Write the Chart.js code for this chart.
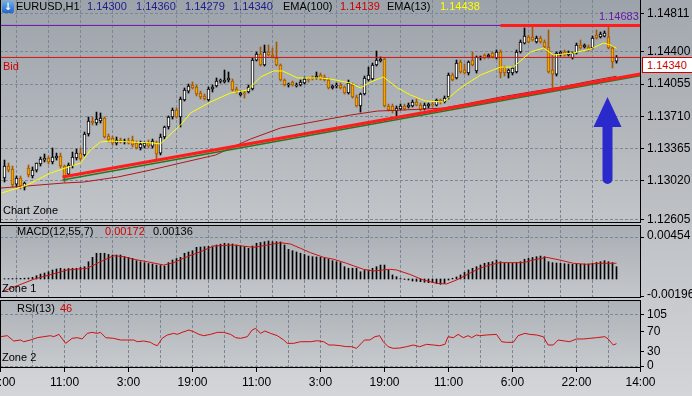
<!DOCTYPE html>
<html>
<head>
<meta charset="utf-8">
<script src="https://cdn.jsdelivr.net/npm/chart.js@4.4.1/dist/chart.umd.min.js"></script>
<style>
  body { margin: 0; width: 692px; height: 396px; overflow: hidden; position: relative;
         background: linear-gradient(#a3a8ae, #d3d5d8); font: 11px "Liberation Sans", Arial, sans-serif; }
  canvas { position: absolute; left: 0; }
  .lbl { position: absolute; white-space: nowrap; line-height: 12px; color: #000; }
  .blue { color: #1c1c8c; }
  .red { color: #d00000; }
  .yel { color: #ffff00; }
  .icon { position: absolute; left: 2px; top: 1px; width: 12px; height: 12px; border-radius: 2px;
          background: linear-gradient(#6aaef0, #2466c8); color: #fff; font: bold 10px/12px "DejaVu Sans"; text-align: center; }
  .pricebox { position: absolute; left: 642px; top: 57px; width: 46px; height: 14px; padding-left: 4px;
              border: 1px solid #d00000; background: #fff; color: #d00000; line-height: 14px; }
</style>
</head>
<body>
<canvas id="main" width="692" height="223" style="top:0"></canvas>
<canvas id="macd" width="692" height="80" style="top:225px"></canvas>
<canvas id="rsi" width="692" height="96" style="top:300px"></canvas>

<div class="icon">↓</div>
<div class="lbl" style="left:16px;top:0">EURUSD,H1</div>
<div class="lbl blue" style="left:87px;top:0">1.14300</div>
<div class="lbl blue" style="left:136px;top:0">1.14360</div>
<div class="lbl blue" style="left:185px;top:0">1.14279</div>
<div class="lbl blue" style="left:233px;top:0">1.14340</div>
<div class="lbl" style="left:283px;top:0">EMA(100)</div>
<div class="lbl red" style="left:340px;top:0">1.14139</div>
<div class="lbl" style="left:387px;top:0">EMA(13)</div>
<div class="lbl yel" style="left:440px;top:0">1.14438</div>
<div class="lbl" style="left:599px;top:10px;color:#6a1aa8">1.14683</div>
<div class="lbl red" style="left:3px;top:60px">Bid</div>
<div class="lbl" style="left:3px;top:204px">Chart Zone</div>
<div class="pricebox">1.14340</div>

<div class="lbl" style="left:17px;top:225px">MACD(12,55,7)</div>
<div class="lbl red" style="left:105px;top:225px">0.00172</div>
<div class="lbl" style="left:153px;top:225px">0.00136</div>
<div class="lbl" style="left:2px;top:282px">Zone 1</div>

<div class="lbl" style="left:17px;top:302px">RSI(13)</div>
<div class="lbl red" style="left:60px;top:302px">46</div>
<div class="lbl" style="left:2px;top:351px">Zone 2</div>

<script>
// candles, one per hour, bar index starts at 1
const firstBar = 1;
const opens = [
  1.13049,1.13177,1.13145,1.12984,1.13049,1.12952,1.13156,1.13070,1.13134,1.13199,
  1.13241,1.13263,1.13220,1.13263,1.13284,1.13177,1.13091,1.13177,1.13263,1.13316,
  1.13295,1.13520,1.13659,1.13638,1.13659,1.13691,1.13498,1.13477,1.13423,1.13456,
  1.13434,1.13445,1.13456,1.13423,1.13370,1.13391,1.13423,1.13391,1.13423,1.13316,
  1.13488,1.13595,1.13702,1.13777,1.13702,1.13884,1.13980,1.14045,1.14023,1.13959,
  1.13927,1.13884,1.14002,1.14034,1.14087,1.14077,1.14098,1.14087,1.14002,1.13938,
  1.13959,1.13970,1.14002,1.14312,1.14377,1.14259,1.14398,1.14366,1.14334,1.14259,
  1.14098,1.14045,1.14077,1.14034,1.14045,1.14066,1.14109,1.14130,1.14120,1.14152,
  1.14130,1.14098,1.14013,1.14034,1.14045,1.14023,1.13959,1.14045,1.13916,1.13820,
  1.13948,1.14098,1.14109,1.14259,1.14302,1.14323,1.13820,1.13820,1.13766,1.13788,
  1.13820,1.13809,1.13820,1.13863,1.13830,1.13788,1.13820,1.13841,1.13830,1.13884,
  1.13863,1.13916,1.14152,1.14120,1.14291,1.14205,1.14173,1.14312,1.14195,1.14334,
  1.14366,1.14345,1.14387,1.14334,1.14398,1.14237,1.14173,1.14173,1.14184,1.14398,
  1.14494,1.14559,1.14559,1.14505,1.14548,1.14505,1.14452,1.14205,1.14162,1.14377,
  1.14398,1.14366,1.14334,1.14387,1.14473,1.14452,1.14452,1.14441,1.14580,1.14559,
  1.14569,1.14559,1.14441,1.14300
];
const highs = [
  1.13241,1.13209,1.13177,1.13070,1.13070,1.13006,1.13188,1.13167,1.13209,1.13274,
  1.13306,1.13284,1.13370,1.13316,1.13316,1.13188,1.13209,1.13327,1.13359,1.13370,
  1.13541,1.13702,1.13702,1.13755,1.13745,1.13702,1.13520,1.13498,1.13488,1.13477,
  1.13466,1.13477,1.13498,1.13445,1.13445,1.13434,1.13456,1.13466,1.13445,1.13520,
  1.13605,1.13713,1.13798,1.13798,1.13916,1.14013,1.14055,1.14077,1.14045,1.13980,
  1.13948,1.14023,1.14045,1.14120,1.14109,1.14205,1.14184,1.14109,1.14023,1.13980,
  1.13980,1.14045,1.14334,1.14398,1.14452,1.14473,1.14473,1.14441,1.14505,1.14270,
  1.14109,1.14066,1.14087,1.14066,1.14098,1.14130,1.14120,1.14141,1.14184,1.14173,
  1.14152,1.14120,1.14045,1.14066,1.14066,1.14034,1.14098,1.14066,1.13938,1.13959,
  1.14141,1.14237,1.14280,1.14409,1.14345,1.14334,1.13841,1.13841,1.13820,1.13841,
  1.13841,1.13852,1.13884,1.13895,1.13852,1.13852,1.13852,1.13863,1.13895,1.13895,
  1.13927,1.14173,1.14173,1.14312,1.14312,1.14270,1.14302,1.14398,1.14355,1.14355,
  1.14377,1.14377,1.14398,1.14420,1.14420,1.14248,1.14216,1.14237,1.14420,1.14527,
  1.14655,1.14580,1.14666,1.14569,1.14569,1.14527,1.14634,1.14366,1.14398,1.14409,
  1.14420,1.14409,1.14398,1.14494,1.14527,1.14484,1.14473,1.14569,1.14634,1.14612,
  1.14623,1.14683,1.14462,1.14360
];
const lows = [
  1.13006,1.13113,1.12952,1.12952,1.12931,1.12920,1.13059,1.13049,1.13113,1.13177,
  1.13220,1.13199,1.13199,1.13241,1.13156,1.13006,1.13070,1.13156,1.13241,1.13241,
  1.13284,1.13498,1.13616,1.13616,1.13638,1.13477,1.13434,1.13402,1.13402,1.13423,
  1.13413,1.13413,1.13381,1.13359,1.13349,1.13370,1.13370,1.13370,1.13241,1.13295,
  1.13466,1.13573,1.13680,1.13691,1.13595,1.13873,1.13959,1.14002,1.13927,1.13895,
  1.13884,1.13873,1.13970,1.14023,1.14066,1.14066,1.14077,1.13980,1.13959,1.13927,
  1.13905,1.13959,1.13991,1.14302,1.14248,1.14248,1.14355,1.14334,1.14248,1.14087,
  1.14034,1.14023,1.14034,1.14023,1.14034,1.14055,1.14077,1.14098,1.14109,1.14098,
  1.14087,1.14002,1.14002,1.14013,1.14002,1.13948,1.13948,1.13905,1.13809,1.13755,
  1.13938,1.14087,1.14098,1.14248,1.14291,1.13809,1.13766,1.13745,1.13702,1.13777,
  1.13777,1.13798,1.13809,1.13820,1.13766,1.13777,1.13798,1.13809,1.13820,1.13841,
  1.13852,1.13895,1.14087,1.14109,1.14173,1.14162,1.14152,1.14248,1.14173,1.14312,
  1.14323,1.14334,1.14334,1.14323,1.14120,1.14141,1.14120,1.14152,1.14173,1.14387,
  1.14484,1.14494,1.14516,1.14494,1.14494,1.14441,1.14173,1.14013,1.14141,1.14355,
  1.14355,1.14355,1.14323,1.14377,1.14430,1.14441,1.14409,1.14430,1.14537,1.14548,
  1.14559,1.14430,1.14227,1.14279
];
const closes = [
  1.13177,1.13134,1.12974,1.13049,1.12963,1.12995,1.13081,1.13134,1.13209,1.13252,
  1.13263,1.13220,1.13274,1.13284,1.13177,1.13059,1.13188,1.13274,1.13316,1.13252,
  1.13520,1.13659,1.13638,1.13680,1.13691,1.13488,1.13456,1.13423,1.13456,1.13434,
  1.13445,1.13423,1.13402,1.13370,1.13413,1.13423,1.13391,1.13445,1.13306,1.13488,
  1.13595,1.13702,1.13777,1.13702,1.13895,1.13991,1.14034,1.14013,1.13948,1.13916,
  1.13895,1.14002,1.14023,1.14087,1.14098,1.14098,1.14120,1.13991,1.13970,1.13959,
  1.13948,1.14023,1.14312,1.14377,1.14259,1.14398,1.14366,1.14345,1.14259,1.14098,
  1.14045,1.14055,1.14045,1.14045,1.14077,1.14109,1.14098,1.14109,1.14141,1.14109,
  1.14098,1.14013,1.14034,1.14045,1.14013,1.13959,1.14066,1.13916,1.13820,1.13948,
  1.14120,1.14152,1.14259,1.14312,1.14323,1.13820,1.13777,1.13766,1.13798,1.13820,
  1.13788,1.13830,1.13863,1.13830,1.13777,1.13830,1.13841,1.13830,1.13884,1.13863,
  1.13905,1.14152,1.14098,1.14280,1.14184,1.14173,1.14291,1.14259,1.14345,1.14345,
  1.14334,1.14366,1.14345,1.14398,1.14173,1.14173,1.14205,1.14227,1.14398,1.14505,
  1.14569,1.14505,1.14527,1.14548,1.14505,1.14452,1.14184,1.14162,1.14387,1.14398,
  1.14366,1.14387,1.14387,1.14473,1.14441,1.14473,1.14420,1.14548,1.14548,1.14591,
  1.14602,1.14441,1.14291,1.14340
];

// moving averages (bar index, price)
const ema13X = [0.25,6.75,12.5,16.25,20,22.5,25,27.5,38.25,40,41.75,45,47.5,52.5,57.5,61.75,65,68.25,70.5,74.25,
  80,82.5,87.5,90,92.5,95.75,99.25,102.5,106.25,110.75,115,120,125,128.25,132.5,135.75,138.25,143.25,147.5,150.75,152.5,154];
const ema13Y = [1.12888,1.12974,1.13102,1.13156,1.13209,1.13349,1.13434,1.13445,1.13423,1.13413,
  1.13488,1.13616,1.13745,1.13863,1.13959,1.13991,1.14130,1.14195,1.14195,1.14120,
  1.14120,1.14109,1.14066,1.14013,1.14077,1.14130,1.14013,1.13938,1.13873,1.13863,
  1.14013,1.14152,1.14237,1.14237,1.14398,1.14441,1.14366,1.14387,1.14430,1.14494,1.14473,1.14438];
const ema100X = [0,15.75,20.75,29.25,37.5,45,53.75,57.5,62.5,70,80.75,87.5,94.25,100.75,106.25,110.75,117.5,125,132.5,140,147.5,154];
const ema100Y = [1.12941,1.12995,1.13006,1.13059,1.13134,1.13209,1.13295,1.13370,1.13466,1.13584,1.13670,
  1.13723,1.13766,1.13777,1.13788,1.13798,1.13852,1.13916,1.13970,1.14023,1.14087,1.14139];

// drawn objects
const trendX = [15.5, 160];
const trendY = [1.13059, 1.14162];
const trendLowY = [1.13027, 1.14146];
const highLevel = 1.14683;
const resistX = [125, 160];
const bidLevel = 1.14340;
const arrowX = 151.75, arrowTip = 1.13916, arrowTail = 1.12984;

// MACD(12,55,7)
const macdHist = [
  0.00003,0.00004,0.00005,0.00005,0.00007,0.00009,0.00011,0.00019,0.00036,0.00054,
  0.00065,0.00079,0.00098,0.00109,0.00117,0.00109,0.00114,0.00117,0.00117,0.00125,
  0.00134,0.00188,0.00236,0.00280,0.00280,0.00280,0.00267,0.00261,0.00261,0.00261,
  0.00243,0.00234,0.00225,0.00199,0.00188,0.00178,0.00169,0.00163,0.00152,0.00147,
  0.00142,0.00178,0.00207,0.00223,0.00236,0.00280,0.00294,0.00308,0.00345,0.00348,
  0.00352,0.00356,0.00359,0.00370,0.00379,0.00389,0.00384,0.00381,0.00370,0.00359,
  0.00352,0.00334,0.00359,0.00389,0.00397,0.00406,0.00414,0.00406,0.00406,0.00403,
  0.00370,0.00323,0.00308,0.00294,0.00280,0.00267,0.00250,0.00243,0.00240,0.00236,
  0.00225,0.00215,0.00199,0.00188,0.00178,0.00134,0.00117,0.00117,0.00117,0.00079,
  0.00093,0.00098,0.00117,0.00134,0.00152,0.00152,0.00098,0.00044,0.00025,0.00005,
  -0.00005,-0.00011,-0.00022,-0.00025,-0.00029,-0.00035,-0.00040,-0.00040,-0.00049,-0.00058,
  -0.00047,-0.00011,0.00008,0.00022,0.00044,0.00071,0.00098,0.00117,0.00134,0.00152,
  0.00171,0.00180,0.00188,0.00207,0.00188,0.00178,0.00174,0.00171,0.00180,0.00188,
  0.00215,0.00225,0.00234,0.00243,0.00250,0.00243,0.00188,0.00178,0.00174,0.00171,
  0.00167,0.00163,0.00160,0.00160,0.00160,0.00163,0.00163,0.00171,0.00180,0.00188,
  0.00199,0.00188,0.00178,0.00134
];
const signalX = [0.4,8.3,16.7,21.7,25,28.3,30.8,33.3,36.7,40.8,43.3,46.7,50,53.3,58.3,63.3,66.7,70,72.5,75,
  77.5,80.8,83.3,86.5,90.7,93.2,97.3,99,102.3,105.7,109,111.5,114,117.3,119.8,122.3,124.8,130.7,133.2,136.5,
  139.8,143.2,146.5,149.8,153.2,154];
const signalY = [-0.00138,-0.00003,0.00098,0.00117,0.00188,0.00254,0.00243,0.00215,0.00188,0.00152,
  0.00178,0.00243,0.00297,0.00359,0.00370,0.00345,0.00370,0.00395,0.00381,0.00334,
  0.00286,0.00236,0.00215,0.00171,0.00106,0.00087,0.00106,0.00098,0.00051,-0.00011,
  -0.00047,-0.00054,-0.00011,0.00062,0.00117,0.00152,0.00178,0.00178,0.00207,0.00236,
  0.00207,0.00171,0.00160,0.00171,0.00171,0.00172];

// RSI(13)
const rsiX = [0,1.7,3.3,5,5.8,7.5,9.2,10.8,12.5,13.3,14.6,16.3,17.9,19.2,20.4,21.7,22.9,24.2,25,26.3,
  28.3,30,31.7,33.3,34.2,35.8,37.5,38.3,39.2,40.4,41.7,43.3,44.2,45.4,47.1,48.3,49.6,50.8,52.5,54.2,
  55.8,57.5,58.8,60,61.7,62.9,63.8,65,66.1,67.5,69.2,70.8,71.7,73.3,75,77.5,79.2,80.8,82.1,83.3,
  85,86.3,87.8,89,89.8,91,92.3,93.6,94.8,95.7,96.9,98.2,99.8,101.5,103.2,104.8,106.5,108.2,109.8,111.1,
  111.9,113.2,114.4,115.7,116.9,117.8,119,119.8,121.5,124,125.3,126.5,128.2,129.4,131.1,132.3,134,135.7,136.9,138.2,
  139.4,141.1,142.3,144,145.7,147.3,149,151.1,151.9,153.2,154];
const rsiY = [60.3,62.4,51.4,53.5,50,53.5,58.3,60.3,62.4,60.3,65.1,46.6,56.9,58.3,55.6,67.2,69.2,67.2,69.2,58.3,
  56.9,53.5,53.5,53.5,50,51.4,48.7,44.6,41.8,56.9,63.8,67.2,65.1,69.2,74,70.6,65.1,62.4,65.1,69.2,
  69.2,65.1,58.3,56.9,60.3,74,77.5,67.2,72,67.2,62.4,53.5,46.6,46.6,50,50,52.1,50,43.2,43.2,
  41.8,40,39.7,36.3,43.2,53.5,53.5,60.3,62.4,50,39.7,36.3,37,39.7,43.2,39.7,44.6,43.2,41.8,44.6,
  60.3,58.3,65.1,58.3,62.4,58.3,63.8,62.4,63.8,65.1,50,48.7,48.7,62.4,67.2,65.1,63.8,60.3,43.2,43.2,
  53.5,51.4,50,55.6,55.6,56.9,58.3,60.3,55.6,43.2,46];

const priceTicks = [1.12605, 1.13020, 1.13365, 1.13710, 1.14055, 1.14400, 1.14811];
const macdTicks = [-0.00196, 0.00454];
const rsiTicks = [0, 30, 70, 105];
const timeLabels = ['19:00', '11:00', '3:00', '19:00', '11:00', '3:00', '19:00', '11:00', '6:00', '22:00', '14:00'];

const gridColor = '#7b8797';
const bearFill = '#f0a800';
const bearEdge = '#a85800';

Chart.defaults.font = { family: 'Liberation Sans', size: 11 };
Chart.defaults.color = '#000';
Chart.defaults.animation = false;
Chart.defaults.plugins.legend.display = false;
Chart.defaults.plugins.tooltip.enabled = false;

const pts = (xs, ys) => xs.map((x, k) => ({ x, y: ys[k] }));
const barX = opens.map((o, k) => firstBar + k);
const bull = k => closes[k] >= opens[k];

// gradient fill + black frame for each zone
const panel = {
  id: 'panel',
  beforeDraw(chart, args, opts) {
    const { ctx, chartArea: a } = chart;
    const g = ctx.createLinearGradient(0, a.top, 0, a.bottom);
    g.addColorStop(0, opts.top);
    g.addColorStop(1, opts.bottom);
    ctx.save();
    ctx.fillStyle = g;
    ctx.fillRect(a.left, a.top, a.right - a.left, a.bottom - a.top);
    ctx.restore();
  },
  afterDraw(chart, args, opts) {
    const { ctx, chartArea: a } = chart;
    ctx.save();
    ctx.strokeStyle = '#000';
    ctx.lineWidth = 1;
    ctx.beginPath();
    if (opts.frameTop) { ctx.moveTo(a.left, a.top + 0.5); ctx.lineTo(a.right, a.top + 0.5); }
    ctx.moveTo(a.left + 0.5, a.top); ctx.lineTo(a.left + 0.5, a.bottom);
    ctx.moveTo(a.right + 0.5, 0); ctx.lineTo(a.right + 0.5, a.bottom);
    ctx.moveTo(a.left, a.bottom - 0.5); ctx.lineTo(a.right, a.bottom - 0.5);
    ctx.stroke();
    ctx.restore();
  }
};

// the hand-drawn blue arrow
const arrow = {
  id: 'arrow',
  afterDatasetsDraw(chart) {
    const { ctx, scales: { x, y } } = chart;
    const cx = x.getPixelForValue(arrowX);
    const tip = y.getPixelForValue(arrowTip);
    const tail = y.getPixelForValue(arrowTail);
    const head = 30, half = 14, shaft = 5;
    ctx.save();
    ctx.fillStyle = '#2a2acc';
    ctx.beginPath();
    ctx.moveTo(cx, tip);
    ctx.lineTo(cx + half, tip + head);
    ctx.lineTo(cx + shaft, tip + head);
    ctx.lineTo(cx + shaft, tail - shaft);
    ctx.arc(cx, tail - shaft, shaft, 0, Math.PI);
    ctx.lineTo(cx - shaft, tip + head);
    ctx.lineTo(cx - half, tip + head);
    ctx.closePath();
    ctx.fill();
    ctx.restore();
  }
};

function timeAxis(withLabels) {
  return {
    type: 'linear', min: -0.125, max: 159.875, offset: false,
    afterBuildTicks: s => { s.ticks = []; for (let v = 0; v <= 160; v += 8) s.ticks.push({ value: v }); },
    afterFit: s => { s.paddingLeft = 0; s.paddingRight = 0; s.height = withLabels ? 28 : 0; },
    grid: {
      color: c => (c.tick && c.tick.value > 0 && c.tick.value < 160) ? gridColor : 'rgba(0,0,0,0)',
      drawTicks: withLabels, tickLength: 4, tickBorderDash: [],
      tickColor: c => (c.tick && c.tick.value % 16 === 0) ? '#000' : 'rgba(0,0,0,0)'
    },
    border: { display: false, dash: [3, 2] },
    ticks: {
      display: withLabels, autoSkip: false, maxRotation: 0, padding: 3, font: { size: 12 },
      callback: v => v % 16 === 0 ? timeLabels[v / 16] : ''
    }
  };
}

function valueAxis(min, max, ticks, fmt, gridAt, shift) {
  return {
    position: 'right', min, max,
    afterBuildTicks: s => { s.ticks = ticks.map(v => ({ value: v })); },
    afterFit: s => { s.width = 52; s.paddingTop = 0; s.paddingBottom = 0; },
    grid: {
      color: c => (c.tick && gridAt.includes(c.tick.value)) ? gridColor : 'rgba(0,0,0,0)',
      drawTicks: true, tickLength: 4, tickColor: '#000', tickBorderDash: []
    },
    border: { display: false, dash: [3, 2] },
    ticks: { padding: 3, font: { size: 12 }, labelOffset: shift || 0, callback: fmt }
  };
}

const line = (data, color, width, order) => ({
  type: 'line', data, borderColor: color, borderWidth: width, pointRadius: 0, tension: 0, order
});

new Chart(document.getElementById('main'), {
  type: 'bar',
  data: {
    datasets: [
      { data: barX.map((x, k) => ({ x, y: [lows[k], highs[k]] })),
        backgroundColor: barX.map((x, k) => bull(k) ? '#000' : bearEdge),
        barThickness: 1, grouped: false, order: 9 },
      { data: barX.map((x, k) => ({ x, y: [opens[k], closes[k]] })),
        backgroundColor: barX.map((x, k) => bull(k) ? '#fff' : bearFill),
        borderColor: barX.map((x, k) => bull(k) ? '#000' : bearEdge),
        borderWidth: 1, borderSkipped: false, barThickness: 3, grouped: false, order: 8 },
      line(pts([-1, 161], [highLevel, highLevel]), '#6a10b0', 1, 7),
      line(pts([-1, 161], [bidLevel, bidLevel]), '#d81010', 1, 6),
      line(pts(ema100X, ema100Y), '#b01818', 1, 5),
      line(pts(trendX, trendLowY), '#1f7a1f', 1.5, 4),
      line(pts(trendX, trendY), '#ff1c1c', 3, 3),
      line(pts(resistX, [highLevel, highLevel]), '#ff1c1c', 3, 2),
      line(pts(ema13X, ema13Y), '#ffff00', 1, 1)
    ]
  },
  options: {
    responsive: false,
    layout: { padding: 0 },
    scales: {
      x: timeAxis(false),
      y: valueAxis(1.12567, 1.14955, priceTicks, v => v.toFixed(5), priceTicks)
    },
    plugins: { panel: { top: '#9da3aa', bottom: '#c2c5c9', frameTop: false } }
  },
  plugins: [panel, arrow]
});

new Chart(document.getElementById('macd'), {
  type: 'bar',
  data: {
    datasets: [
      line(pts(signalX, signalY), '#d01010', 1, 1),
      { data: barX.map((x, k) => ({ x, y: macdHist[k] })), backgroundColor: '#000',
        barThickness: 1, grouped: false, order: 2 }
    ]
  },
  options: {
    responsive: false,
    layout: { padding: { bottom: 7 } },
    scales: {
      x: timeAxis(false),
      y: valueAxis(-0.00207, 0.00588, macdTicks, v => v.toFixed(5), [0.00454], -2)
    },
    plugins: { panel: { top: '#a9aeb4', bottom: '#c4c7cb', frameTop: true } }
  },
  plugins: [panel]
});

new Chart(document.getElementById('rsi'), {
  type: 'line',
  data: { datasets: [line(pts(rsiX, rsiY), '#d01010', 1, 1)] },
  options: {
    responsive: false,
    layout: { padding: 0 },
    scales: {
      x: timeAxis(true),
      y: valueAxis(-4.1, 135.8, rsiTicks, v => String(v), [0, 105])
    },
    plugins: { panel: { top: '#adb2b8', bottom: '#c7cacd', frameTop: true } }
  },
  plugins: [panel]
});
</script>
</body>
</html>
